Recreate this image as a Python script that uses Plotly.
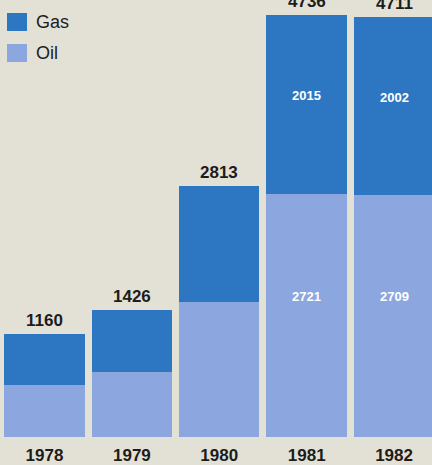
import plotly.graph_objects as go

# Annual totals split by fuel
years = ["1978", "1979", "1980", "1981", "1982"]
oil = [580, 730, 1517, 2721, 2709]
gas = [580, 696, 1296, 2015, 2002]
totals = [1160, 1426, 2813, 4736, 4711]
# Segment values printed inside the bars (blank where none is shown)
oil_labels = ["", "", "", "2721", "2709"]
gas_labels = ["", "", "", "2015", "2002"]

GAS_COLOR = "#2d77c2"
OIL_COLOR = "#8ca6df"
BG = "#e3e1d6"
INK = "#1c1c1c"
FONT = "Liberation Sans"

x = list(range(len(years)))

fig = go.Figure()
fig.add_trace(go.Bar(x=x, y=oil, name="Oil", marker_color=OIL_COLOR,
                     marker_line_width=0, width=0.92, showlegend=False))
fig.add_trace(go.Bar(x=x, y=gas, name="Gas", marker_color=GAS_COLOR,
                     marker_line_width=0, width=0.92, showlegend=False))

annotations = []
for i in x:
    # total above each stack
    annotations.append(dict(x=i, y=totals[i], text=f"<b>{totals[i]}</b>",
                            showarrow=False, yanchor="bottom", yshift=2,
                            font=dict(family=FONT, size=17, color=INK)))
    if gas_labels[i]:
        annotations.append(dict(x=i, y=oil[i] + gas[i] * 0.55,
                                text=f"<b>{gas_labels[i]}</b>", showarrow=False,
                                font=dict(family=FONT, size=13, color="white")))
    if oil_labels[i]:
        annotations.append(dict(x=i, y=oil[i] * 0.58,
                                text=f"<b>{oil_labels[i]}</b>", showarrow=False,
                                font=dict(family=FONT, size=13, color="white")))

# Legend drawn as swatches with labels in the top-left corner
legend_items = [("Gas", GAS_COLOR), ("Oil", OIL_COLOR)]
shapes = []
for k, (name, color) in enumerate(legend_items):
    top = 13 + k * 31
    shapes.append(dict(type="rect", xref="paper", yref="paper",
                       x0=7 / 432, x1=27 / 432,
                       y0=1 - (top + 18) / 437, y1=1 - top / 437,
                       fillcolor=color, line_width=0, layer="above"))
    annotations.append(dict(xref="paper", yref="paper", x=34 / 432,
                            y=1 - (top + 9) / 437, xanchor="left",
                            yanchor="middle", text=name, showarrow=False,
                            font=dict(family=FONT, size=18, color=INK)))

fig.update_layout(
    barmode="stack",
    width=432, height=465,
    margin=dict(l=0, r=0, t=0, b=28),
    paper_bgcolor=BG, plot_bgcolor=BG,
    bargap=0,
    annotations=annotations,
    shapes=shapes,
    xaxis=dict(tickmode="array", tickvals=x, ticktext=[f"<b>{y}</b>" for y in years],
               range=[-0.509, 4.434], showgrid=False, zeroline=False,
               showline=False, ticks="", fixedrange=True, ticklabelstandoff=6,
               tickfont=dict(family=FONT, size=17, color=INK)),
    yaxis=dict(range=[0, 4900], visible=False, fixedrange=True),
    showlegend=False,
)

fig.write_html("out.html", config={"displayModeBar": False})
